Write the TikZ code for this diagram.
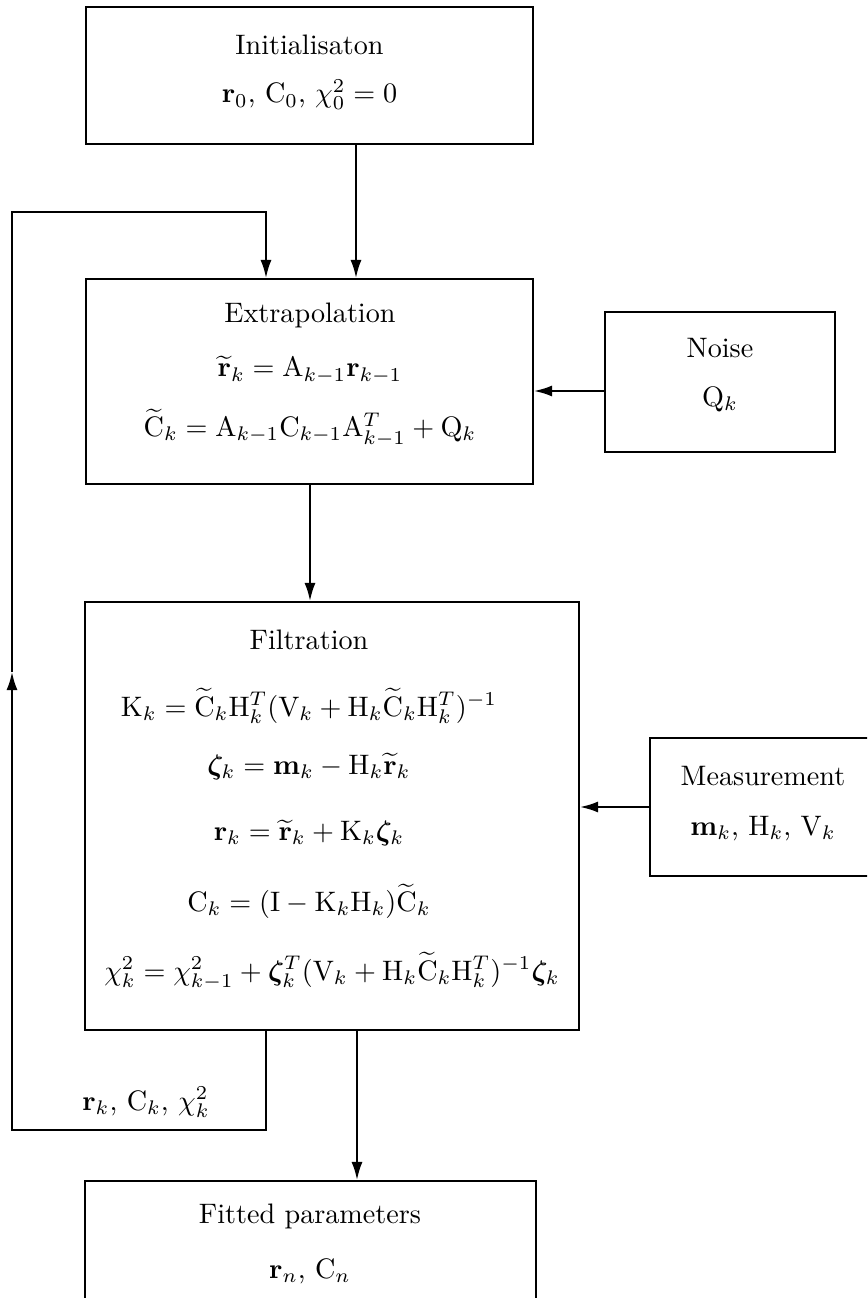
\documentclass[tikz,border=0pt]{standalone}
\usepackage{amsmath}
\usepackage{bm}
\usetikzlibrary{arrows.meta}
\def\u{0.355pt}
\tikzset{
  box/.style={draw, line width=0.7pt, inner sep=0pt, rectangle},
  txt/.style={anchor=base, inner sep=0pt},
  arr/.style={line width=0.7pt, -{Latex[length=6.4pt,width=3.9pt]}},
  plain/.style={line width=0.7pt}
}
\begin{document}
\begin{tikzpicture}[x=0.355pt, y=-0.355pt]
\useasboundingbox (0,0) rectangle (867,1298);
\clip (0,0) rectangle (867,1298);
% boxes
\node[box, minimum width=447*\u, minimum height=137*\u] (init) at (309.5,75.5) {};
\node[box, minimum width=447*\u, minimum height=205*\u] (extrap) at (309.5,381.5) {};
\node[box, minimum width=230*\u, minimum height=140*\u] (noise) at (720,382) {};
\node[box, minimum width=494*\u, minimum height=428*\u] (filt) at (332,816) {};
\node[box, minimum width=226*\u, minimum height=138*\u] (meas) at (763,807) {};
\node[box, minimum width=451*\u, minimum height=139*\u] (fitted) at (310.5,1250.5) {};
% texts
\node[txt] (initA) at (309.5,54.3) {Initialisaton};
\node[txt] (initB) at (309.5,103) {$\mathbf{r}_0$, $\mathrm{C}_0$, $\chi^2_0 = 0$};
\node[txt] (exA) at (310,322.7) {Extrapolation};
\node[txt] (exB) at (310,377) {$\widetilde{\mathbf{r}}_k = \mathrm{A}_{k-1}\mathbf{r}_{k-1}$};
\node[txt] (exC) at (310,436.7) {$\widetilde{\mathrm{C}}_k = \mathrm{A}_{k-1}\mathrm{C}_{k-1}\mathrm{A}^T_{k-1} + \mathrm{Q}_k$};
\node[txt] (noA) at (720,358) {Noise};
\node[txt] (noB) at (720,406.7) {$\mathrm{Q}_k$};
\node[txt] (fiA) at (309,649.3) {Filtration};
\node[txt] (fiB) at (309,716) {$\mathrm{K}_k = \widetilde{\mathrm{C}}_k\mathrm{H}^T_k(\mathrm{V}_k + \mathrm{H}_k\widetilde{\mathrm{C}}_k\mathrm{H}^T_k)^{-1}$};
\node[txt] (fiC) at (309,774) {$\bm{\zeta}_k = \mathbf{m}_k - \mathrm{H}_k\widetilde{\mathbf{r}}_k$};
\node[txt] (fiD) at (309,840.7) {$\mathbf{r}_k = \widetilde{\mathbf{r}}_k + \mathrm{K}_k\bm{\zeta}_k$};
\node[txt] (fiE) at (309,911.7) {$\mathrm{C}_k = (\mathrm{I} - \mathrm{K}_k\mathrm{H}_k)\widetilde{\mathrm{C}}_k$};
\node[txt] (fiF) at (332,980) {$\chi^2_k = \chi^2_{k-1} + \bm{\zeta}^T_k(\mathrm{V}_k + \mathrm{H}_k\widetilde{\mathrm{C}}_k\mathrm{H}^T_k)^{-1}\bm{\zeta}_k$};
\node[txt] (meA) at (763,785) {Measurement};
\node[txt] (meB) at (763,835) {$\mathbf{m}_k$, $\mathrm{H}_k$, $\mathrm{V}_k$};
\node[txt] (fbl) at (146,1110) {$\mathbf{r}_k$, $\mathrm{C}_k$, $\chi^2_k$};
\node[txt] (ftA) at (310,1223) {Fitted parameters};
\node[txt] (ftB) at (310,1278) {$\mathbf{r}_n$, $\mathrm{C}_n$};
% connectors
\coordinate (ix) at (356,0);
\coordinate (ex) at (310,0);
\coordinate (fx) at (357,0);
\coordinate (ny) at (0,391);
\coordinate (my) at (0,807);
\coordinate (fbBR) at (266,1130);
\coordinate (fbBL) at (12,1130);
\coordinate (fbMid) at (12,672);
\coordinate (fbTL) at (12,212);
\coordinate (fbTR) at (266,212);
\draw[arr] (init.south -| ix) -- (extrap.north -| ix);
\draw[arr] (extrap.south -| ex) -- (filt.north -| ex);
\draw[arr] (noise.west |- ny) -- (extrap.east |- ny);
\draw[arr] (meas.west |- my) -- (filt.east |- my);
\draw[arr] (filt.south -| fx) -- (fitted.north -| fx);
\draw[arr] (filt.south -| fbBR) -- (fbBR) -- (fbBL) -- (fbMid);
\draw[arr] (fbMid) -- (fbTL) -- (fbTR) -- (extrap.north -| fbTR);
\end{tikzpicture}
\end{document}
